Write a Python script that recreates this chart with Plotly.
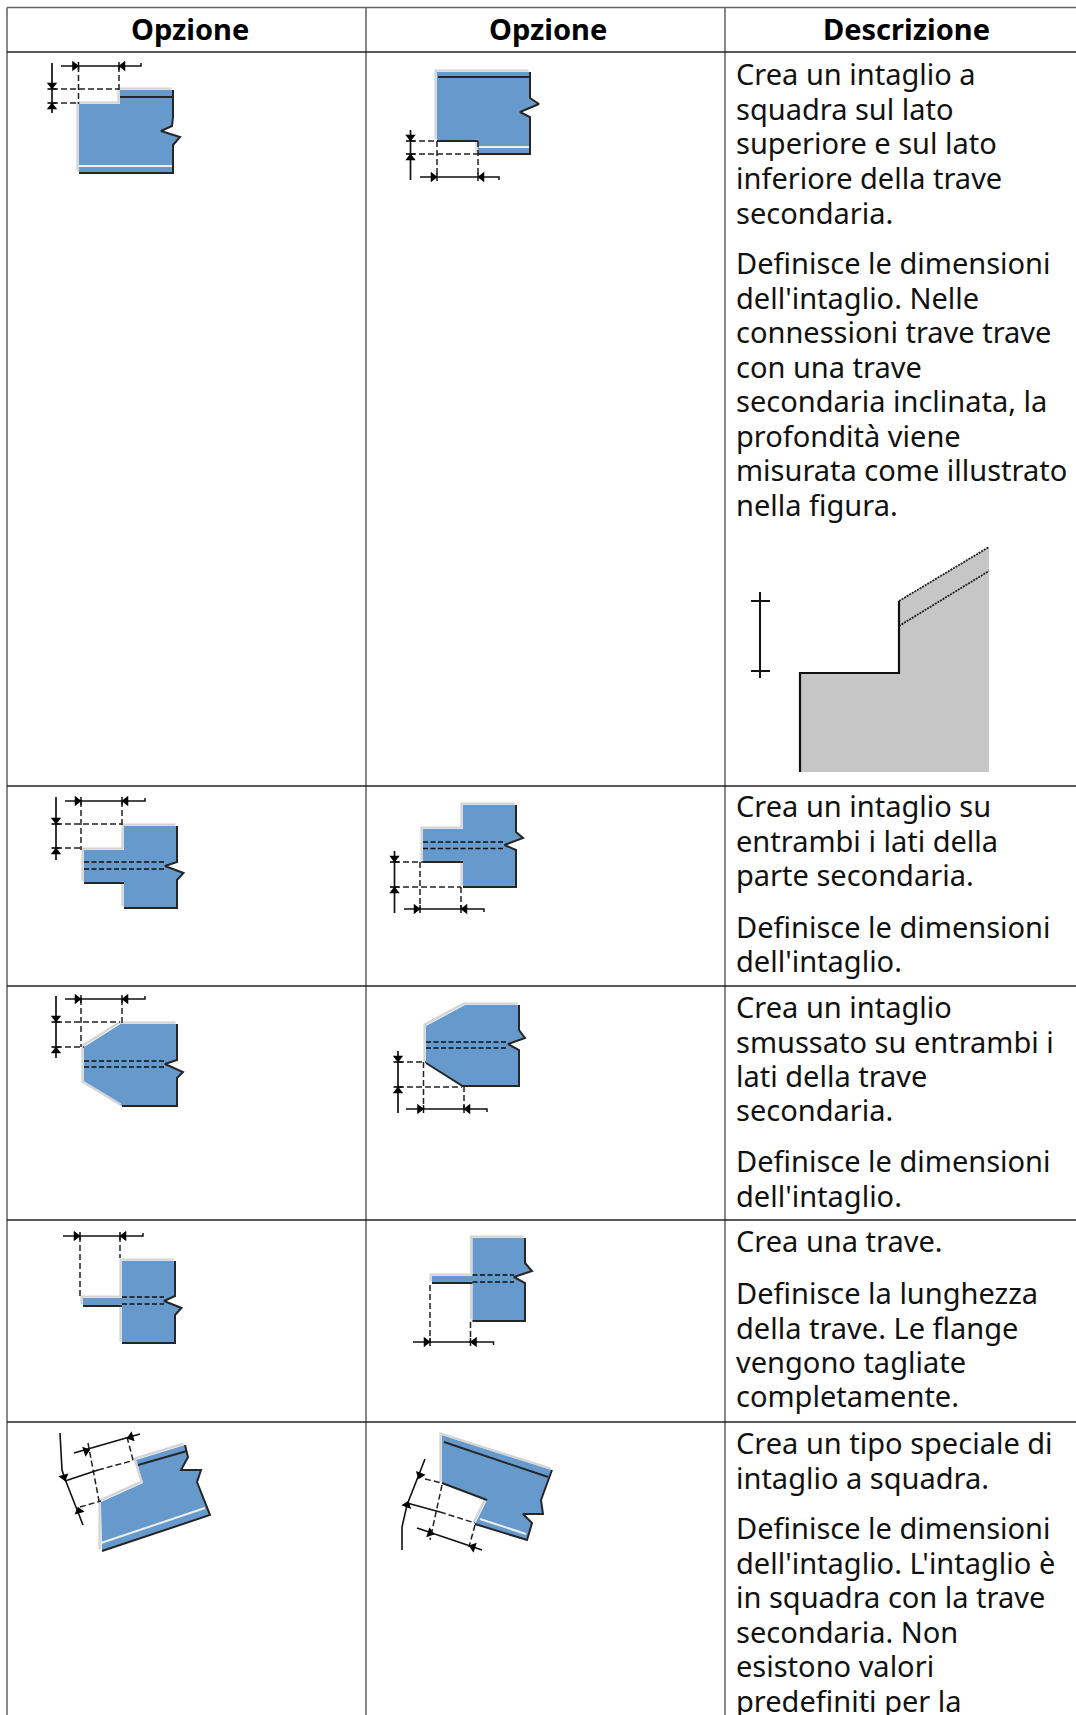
import plotly.graph_objects as go

W, H = 1076, 1715
# ---------- table grid ----------
COL_X = [7, 366, 725]
ROW_Y = [7.5, 52, 786, 986, 1220, 1422]
RIGHT = 1076
# ---------- text ----------
HEADERS = ["Opzione", "Opzione", "Descrizione"]
HEADER_X = [190, 548, 906.5]
HEADER_Y = 28
DESC_LINES = [
 "Crea un intaglio a", "squadra sul lato", "superiore e sul lato", "inferiore della trave", "secondaria.",
 "Definisce le dimensioni", "dell'intaglio. Nelle", "connessioni trave trave", "con una trave",
 "secondaria inclinata, la", "profondità viene", "misurata come illustrato", "nella figura.",
 "Crea un intaglio su", "entrambi i lati della", "parte secondaria.",
 "Definisce le dimensioni", "dell'intaglio.",
 "Crea un intaglio", "smussato su entrambi i", "lati della trave", "secondaria.",
 "Definisce le dimensioni", "dell'intaglio.",
 "Crea una trave.",
 "Definisce la lunghezza", "della trave. Le flange", "vengono tagliate", "completamente.",
 "Crea un tipo speciale di", "intaglio a squadra.",
 "Definisce le dimensioni", "dell'intaglio. L'intaglio è", "in squadra con la trave", "secondaria. Non", "esistono valori", "predefiniti per la",
]
DESC_Y = [
 73, 108, 142, 177, 212, 262, 297, 331.5, 366, 400.5, 435, 469.5, 504,
 805.5, 840, 874, 926, 960,
 1006, 1041, 1075, 1109, 1160, 1195,
 1240, 1292, 1327, 1361, 1395,
 1442, 1477, 1527, 1562, 1596, 1631, 1665, 1700,
]
DESC_X = 734

# ---------- icon geometry: row 1 ----------
A1_BEAM = [(79,104),(120,104),(120,90),(173,90),(173,117),(172,126),(161,131),(180,137),(173,145),(173,173),(79,173)]
A1_LIGHT = [[(79,173),(79,104),(120,104),(120,90),(173,90)]]
A1_DARK = [[(173,90),(173,117),(172,126),(161,131),(180,137),(173,145),(173,173),(79,173)],[(120,97),(173,97)]]
A1_WHITE = [[(79,166),(172,166)]]
A1_HIDDEN = []
A1_EXT = [[(52,89),(119,89)],[(52,103),(79,103)],[(78.5,66),(78.5,104)],[(119,66),(119,90)]]
A1_V = (52,63,89,103,113)
A1_H = (66,61,78.5,119,141,-3)

B1_BEAM = [(437,72),(530,72),(530,98),(539,104),(520,112),(530,117),(530,154),(478,154),(478,141),(437,141)]
B1_LIGHT = [[(437,141),(437,72),(530,72)],[(478,141),(478,154)]]
B1_DARK = [[(530,72),(530,98),(539,104),(520,112),(530,117),(530,154),(478,154)],[(437,141),(478,141)],[(438,77),(530,77)]]
B1_WHITE = [[(479,147),(529,147)]]
B1_HIDDEN = []
B1_EXT = [[(410,141),(437,141)],[(410,154),(478,154)],[(437,141),(437,177)],[(478,141),(478,177)]]
B1_V = (410.5,130,141,154,180)
B1_H = (177,420,437,478,499,3)

# small reference figure
FIG_BODY = [(800,772),(800,673),(899,673),(899,601),(989,547),(989,772)]
FIG_EDGE = [(800,772),(800,673),(899,673),(899,601)]
FIG_DASH = [[(899,601),(989,547)],[(899,626),(989,571)]]
FIG_DIM = [[(760,592),(760,678)],[(751,601),(770,601)],[(751,671),(770,671)]]

# row 2
A2_BEAM = [(84,850),(124,850),(124,826),(177,826),(177,862),(165,866),(183.5,873),(177,880),(177,908),(124,908),(124,883),(84,883)]
A2_LIGHT = [[(84,883),(84,850),(124,850),(124,826),(177,826)],[(124,883),(124,908)]]
A2_DARK = [[(177,826),(177,862),(165,866),(183.5,873),(177,880),(177,908),(124,908)],[(84,883),(124,883)]]
A2_WHITE = []
A2_HIDDEN = [[(84,862),(165,862)],[(84,869),(165,869)]]
A2_EXT = [[(56,824),(122,824)],[(56,848),(82,848)],[(81,801),(81,850)],[(122,801),(122,825)]]
A2_V = (56,797,824,848,860)
A2_H = (801,65,81,122,145,-3)

B2_BEAM = [(423,829),(463,829),(463,805),(516,805),(516,832),(523,838),(504.5,845),(516,850),(516,887),(463,887),(463,862),(423,862)]
B2_LIGHT = [[(423,862),(423,829),(463,829),(463,805),(516,805)],[(463,862),(463,887)]]
B2_DARK = [[(516,805),(516,832),(523,838),(504.5,845),(516,850),(516,887),(463,887)],[(423,862),(463,862)]]
B2_WHITE = []
B2_HIDDEN = [[(423,842),(505,842)],[(423,848.5),(505,848.5)]]
B2_EXT = [[(394,862),(423,862)],[(394,887),(461,887)],[(420,862),(420,909)],[(461,887),(461,909)]]
B2_V = (394.5,851,862,887,913)
B2_H = (909,404,420,461,484,3)

# row 3
A3_BEAM = [(84,1047),(120.5,1024),(177,1024),(177,1060),(165,1064),(183,1072),(177,1078),(177,1106),(122,1106),(84,1083)]
A3_LIGHT = [[(122,1106),(84,1083),(84,1047),(120.5,1024),(177,1024)]]
A3_DARK = [[(177,1024),(177,1060),(165,1064),(183,1072),(177,1078),(177,1106),(122,1106)]]
A3_WHITE = []
A3_HIDDEN = [[(84,1061),(165,1061)],[(84,1067),(165,1067)]]
A3_EXT = [[(56,1022),(120,1022)],[(56,1047),(84,1047)],[(81,999),(81,1047)],[(122,999),(122,1023)]]
A3_V = (56,996,1022,1047,1058)
A3_H = (999,65,81,122,145,-3)

B3_BEAM = [(426,1026),(465,1005),(519,1005),(519,1030),(525,1038),(508,1044),(519,1050),(519,1086),(462.5,1086),(426,1063)]
B3_LIGHT = [[(426,1063),(426,1026),(465,1005),(519,1005)]]
B3_DARK = [[(519,1005),(519,1030),(525,1038),(508,1044),(519,1050),(519,1086),(462.5,1086),(426,1063)]]
B3_WHITE = []
B3_HIDDEN = [[(426,1042),(508,1042)],[(426,1048),(508,1048)]]
B3_EXT = [[(398,1062),(426,1062)],[(398,1087),(462,1087)],[(423.5,1062),(423.5,1109)],[(464,1086),(464,1109)]]
B3_V = (398,1051,1062,1087,1113)
B3_H = (1109,406,423.5,464,487,3)

# row 4
A4_BEAM = [(83,1298),(122,1298),(122,1261),(175,1261),(175,1296),(164,1301),(181.5,1308),(175,1315),(175,1343),(122,1343),(122,1306),(83,1306)]
A4_LIGHT = [[(83,1306),(83,1298),(122,1298),(122,1261),(175,1261)],[(122,1306),(122,1343)]]
A4_DARK = [[(175,1261),(175,1296),(164,1301),(181.5,1308),(175,1315),(175,1343),(122,1343)],[(83,1306),(122,1306)]]
A4_WHITE = []
A4_HIDDEN = [[(122,1297),(164,1297)],[(122,1304),(164,1304)]]
A4_EXT = [[(80,1236),(80,1297)],[(120,1236),(120,1258)]]
A4_V = None
A4_H = (1236,63,80,120,143,-3)

B4_BEAM = [(432,1276),(472.5,1276),(472.5,1238),(525,1238),(525,1263),(532,1271),(514,1277),(525,1283),(525,1321),(472.5,1321),(472.5,1283),(432,1283)]
B4_LIGHT = [[(432,1283),(432,1276),(472.5,1276),(472.5,1238),(525,1238)],[(472.5,1283),(472.5,1321)]]
B4_DARK = [[(525,1238),(525,1263),(532,1271),(514,1277),(525,1283),(525,1321),(472.5,1321)],[(432,1283),(472.5,1283)]]
B4_WHITE = []
B4_HIDDEN = [[(472.5,1275),(514,1275)],[(472.5,1282),(514,1282)]]
B4_EXT = [[(430,1285),(430,1342)],[(470.5,1322),(470.5,1342)]]
B4_V = None
B4_H = (1342,413,430,470.5,493.5,3)

# row 5
A5_BEAM = [(101,1502),(143,1483),(136,1460),(185,1445),(188,1457),(181,1470),(201,1470),(197,1482),(210,1515),(102,1551)]
A5_LIGHT = [[(101,1551),(101,1502),(143,1483),(136,1460),(185,1445)]]
A5_DARK = [[(185,1445),(188,1457),(181,1470),(201,1470),(197,1482),(210,1515),(102,1551)],[(138,1465),(187,1451)]]
A5_WHITE = [[(101,1543),(205,1508)]]
A5_HIDDEN = []
A5_EXT = [[(98,1470),(133,1460.5)],[(80,1507),(101,1501)],[(88,1443),(99,1501)],[(127,1437),(133,1460)]]
A5_SOLID = [[(60,1433),(62,1470),(65,1479),(83,1525)],[(74,1453),(140,1434)],[(65,1481),(98,1470)]]
A5_ARROWS = [(64,1477,165),(79,1511,-15),(86,1451,72),(131,1437,252)]

B5_BEAM = [(442,1435),(552,1470),(541,1500),(543,1514),(523,1514),(532,1523),(527,1540),(475,1524),(487,1500),(442,1483)]
B5_LIGHT = [[(442,1483),(442,1435),(552,1470)],[(487,1500),(475,1524)]]
B5_DARK = [[(552,1470),(541,1500),(543,1514),(523,1514),(532,1523),(527,1540),(475,1524)],[(442,1483),(487,1500)],[(444,1442),(548,1477)]]
B5_WHITE = [[(480,1519),(526,1534)]]
B5_HIDDEN = []
B5_EXT = [[(425,1479),(442,1483)],[(440,1512),(475,1523)],[(442,1485),(430,1540)],[(475,1525),(469,1547)]]
B5_SOLID = [[(425,1459),(407,1505),(402,1527),(402,1550)],[(417,1528),(482,1550)],[(407,1503),(440,1512)]]
B5_ARROWS = [(420,1475,200),(407,1505,20),(430,1533,108),(473,1547,288)]

ICONS = [
 (A1_BEAM,A1_LIGHT,A1_DARK,A1_WHITE,A1_HIDDEN,A1_EXT,A1_V,A1_H,[],[]),
 (B1_BEAM,B1_LIGHT,B1_DARK,B1_WHITE,B1_HIDDEN,B1_EXT,B1_V,B1_H,[],[]),
 (A2_BEAM,A2_LIGHT,A2_DARK,A2_WHITE,A2_HIDDEN,A2_EXT,A2_V,A2_H,[],[]),
 (B2_BEAM,B2_LIGHT,B2_DARK,B2_WHITE,B2_HIDDEN,B2_EXT,B2_V,B2_H,[],[]),
 (A3_BEAM,A3_LIGHT,A3_DARK,A3_WHITE,A3_HIDDEN,A3_EXT,A3_V,A3_H,[],[]),
 (B3_BEAM,B3_LIGHT,B3_DARK,B3_WHITE,B3_HIDDEN,B3_EXT,B3_V,B3_H,[],[]),
 (A4_BEAM,A4_LIGHT,A4_DARK,A4_WHITE,A4_HIDDEN,A4_EXT,A4_V,A4_H,[],[]),
 (B4_BEAM,B4_LIGHT,B4_DARK,B4_WHITE,B4_HIDDEN,B4_EXT,B4_V,B4_H,[],[]),
 (A5_BEAM,A5_LIGHT,A5_DARK,A5_WHITE,A5_HIDDEN,A5_EXT,None,None,A5_SOLID,A5_ARROWS),
 (B5_BEAM,B5_LIGHT,B5_DARK,B5_WHITE,B5_HIDDEN,B5_EXT,None,None,B5_SOLID,B5_ARROWS),
]

BLUE = "#6699cc"
fig = go.Figure()

def path(segments, dx=0, dy=0):
    xs, ys = [], []
    for seg in segments:
        xs += [p[0]+dx for p in seg] + [None]
        ys += [p[1]+dy for p in seg] + [None]
    return xs, ys

def lines(segments, color, width, dash="solid", dx=0, dy=0):
    if not segments:
        return
    xs, ys = path(segments, dx, dy)
    fig.add_trace(go.Scatter(x=xs, y=ys, mode="lines", hoverinfo="skip",
                             line=dict(color=color, width=width, dash=dash)))

def arrows(items):
    if items:
        fig.add_trace(go.Scatter(x=[a[0] for a in items], y=[a[1] for a in items], mode="markers",
                                 hoverinfo="skip",
                                 marker=dict(symbol="triangle-up", size=9, color="#000",
                                             angle=[a[2] for a in items], line=dict(width=0))))

def vdim(d):
    x, top, y1, y2, bot = d
    lines([[(x,top),(x,bot)],[(x-4.5,y1),(x+4.5,y1)],[(x-4.5,y2),(x+4.5,y2)]], "#111", 1.7)
    arrows([(x,y1-4,180),(x,y2+4,0)])

def hdim(d):
    y, left, x1, x2, right, tick = d
    lines([[(left,y),(right,y),(right,y+tick)],[(x1,y-4),(x1,y+4)],[(x2,y-4),(x2,y+4)]], "#111", 1.5)
    arrows([(x1-4,y,90),(x2+4,y,270)])

# grid
gx = [[(x, ROW_Y[0]), (x, H)] for x in COL_X]
lines(gx, "#555555", 1.4)
lines([[(COL_X[0], ROW_Y[0]), (RIGHT, ROW_Y[0])]], "#666666", 1.6)
lines([[(COL_X[0], y), (RIGHT, y)] for y in ROW_Y[1:]], "#222222", 1.5)

# reference figure
fig.add_trace(go.Scatter(x=[p[0] for p in FIG_BODY], y=[p[1] for p in FIG_BODY], mode="none",
                         fill="toself", fillcolor="#c6c6c6", hoverinfo="skip"))
lines([FIG_EDGE], "#111", 2.2)
lines(FIG_DASH, "#222", 1.8, "2px,1px")
lines(FIG_DIM, "#111", 2)

# icons
for beam, light, dark, white, hidden, ext, v, h, solid, arr in ICONS:
    fig.add_trace(go.Scatter(x=[p[0] for p in beam], y=[p[1] for p in beam], mode="none",
                             fill="toself", fillcolor=BLUE, hoverinfo="skip"))
    lines(light, "#d4d4d4", 2.4, dx=-1.4, dy=-1.4)
    lines(white, "#eeeeee", 2)
    lines(dark, "#262626", 2)
    lines(hidden, "#111111", 1.7, "5px,2.5px")
    lines(ext, "#222222", 1.5, "6px,3px")
    lines(solid, "#111", 1.6)
    arrows(arr)
    if v: vdim(v)
    if h: hdim(h)

FONT = "Noto Sans"
ann = []
for t, x in zip(HEADERS, HEADER_X):
    ann.append(dict(x=x, y=HEADER_Y, text="<b>%s</b>" % t, showarrow=False, xanchor="center", yanchor="middle",
                    font=dict(family=FONT, size=29, color="#000")))
for t, y in zip(DESC_LINES, DESC_Y):
    ann.append(dict(x=DESC_X, y=y, text=t, showarrow=False, xanchor="left", yanchor="middle",
                    font=dict(family=FONT, size=29, color="#111")))

fig.update_layout(width=W, height=H, margin=dict(l=0, r=0, t=0, b=0), showlegend=False,
                  paper_bgcolor="white", plot_bgcolor="white", annotations=ann,
                  xaxis=dict(range=[0, W], visible=False, fixedrange=True),
                  yaxis=dict(range=[H, 0], visible=False, fixedrange=True))
fig.write_html("out.html", config={"displayModeBar": False},
               post_script="document.body.style.margin='0';document.documentElement.style.overflow='hidden';")
